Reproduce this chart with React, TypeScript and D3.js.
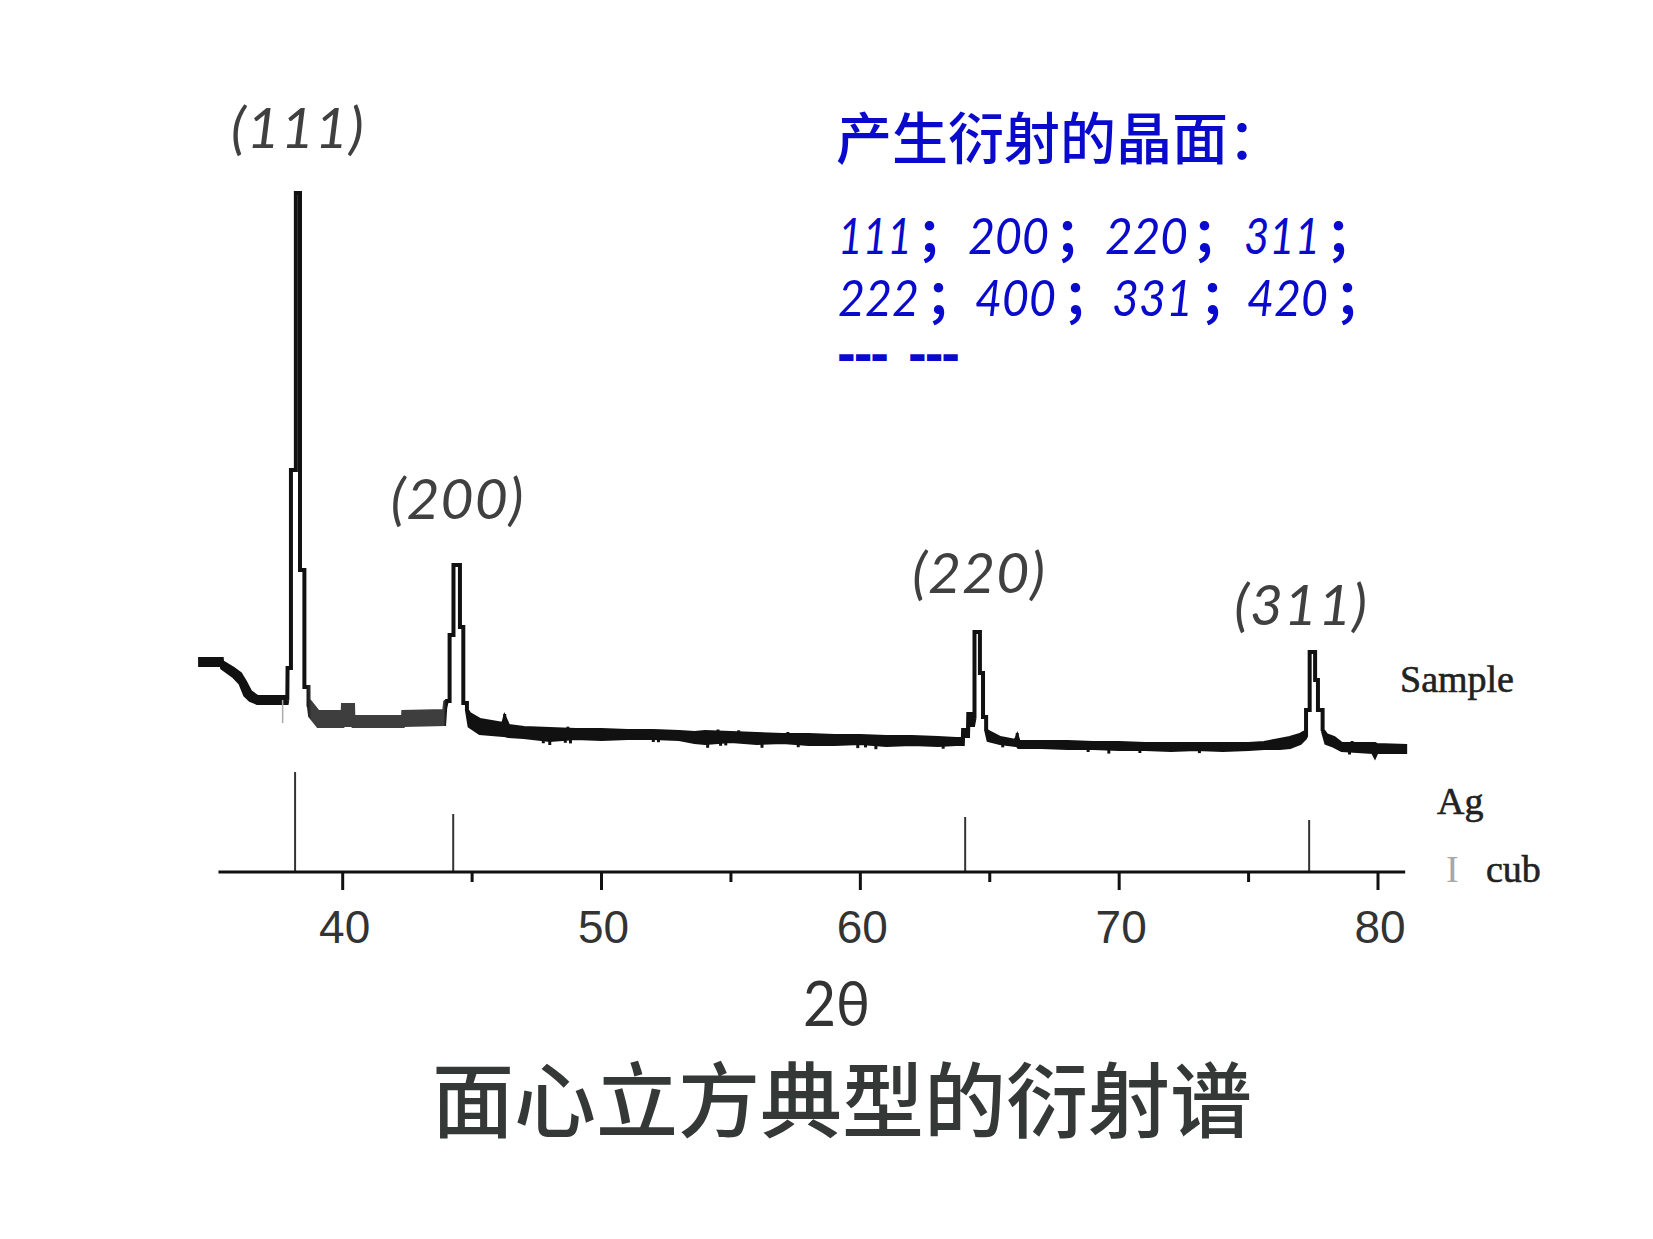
import React from 'react';
import * as d3 from 'd3';

// ---- data ----
// Sample pattern: 2θ positions and the upper / lower envelope of the trace (counts)
const sampleTheta = [
  34.49, 35.33, 35.34, 35.78, 36.04, 36.23, 36.43, 36.70, 37.84,
  37.86, 37.87, 38.00, 38.00, 38.19, 38.19, 38.35, 38.35, 38.52, 38.52, 38.68, 38.68,
  38.74, 39.05, 40.00, 40.01, 40.40, 40.41, 42.33, 42.34, 43.92,
  43.96, 44.02, 44.13, 44.13, 44.28, 44.28, 44.53, 44.53, 44.66, 44.66, 44.80, 44.80,
  44.90, 45.30, 46.20, 46.26, 46.40, 47.0, 48.0, 49.0, 50.0, 51.0, 52.0, 53.0, 53.6,
  54.0, 55.0, 56.0, 57.0, 58.0, 59.0, 60.0, 61.0, 62.0, 63.0, 63.7, 63.96, 63.97, 64.16,
  64.17, 64.36,
  64.41, 64.41, 64.62, 64.62, 64.74, 64.74, 64.86, 64.86,
  64.95, 65.40, 66.00, 66.06, 66.12, 67.0, 68.0, 69.0, 70.0, 71.0, 72.0, 73.0, 74.0,
  75.0, 75.6, 76.2, 76.6, 76.99, 77.18,
  77.22, 77.22, 77.36, 77.36, 77.57, 77.57, 77.68, 77.68, 77.86, 77.86,
  78.0, 78.3, 78.6, 79.2, 79.8, 79.88, 79.95, 81.05,
];
const sampleHigh = [
  1010, 1010, 980, 910, 860, 780, 680, 630, 630,
  600, 920, 920, 2900, 2900, 5670, 5670, 1900, 1900, 730, 730, 570,
  580, 480, 480, 550, 550, 430, 430, 480, 490,
  580, 590, 590, 1250, 1250, 1950, 1950, 1330, 1330, 570, 570, 500,
  460, 400, 360, 420, 340, 320, 310, 300, 300, 290, 290, 280, 270,
  280, 270, 260, 250, 250, 240, 240, 230, 230, 220, 210, 210, 300, 300,
  460, 460,
  420, 1280, 1280, 870, 870, 430, 430, 300,
  280, 220, 190, 230, 180, 180, 180, 170, 170, 160, 160, 160, 160,
  160, 170, 200, 220, 250, 280,
  240, 500, 500, 1080, 1080, 800, 800, 500, 500, 300,
  250, 220, 160, 160, 160, 160, 150, 140,
];
const sampleLow = [
  950, 950, 920, 840, 770, 650, 600, 570, 570,
  600, 920, 920, 2900, 2900, 5670, 5670, 1900, 1900, 730, 730, 570,
  440, 340, 340, 350, 350, 340, 340, 350, 360,
  520, 590, 590, 1250, 1250, 1950, 1950, 1330, 1330, 570, 570, 500,
  340, 270, 250, 250, 240, 230, 200, 220, 210, 220, 220, 210, 180,
  170, 190, 170, 180, 160, 160, 170, 150, 160, 150, 160, 160, 240, 240,
  350, 350,
  420, 1280, 1280, 870, 870, 430, 430, 300,
  200, 170, 150, 150, 130, 130, 120, 120, 110, 110, 100, 110, 100,
  110, 120, 120, 130, 170, 220,
  240, 500, 500, 1080, 1080, 800, 800, 500, 500, 300,
  170, 140, 100, 90, 80, 40, 80, 80,
];

// Small noise spikes on the trace: downward (below the band) and upward (above it)
const spikeDownTheta = [47.75, 48.0, 48.6, 48.8, 52.0, 52.2, 54.1, 54.6, 54.8, 56.2, 57.6, 59.9, 60.2, 60.6, 63.2, 65.5, 68.8, 69.6, 70.8, 73.1, 78.9];
const spikeDownDepth = [40, 50, 40, 50, 40, 40, 50, 40, 40, 50, 40, 50, 40, 50, 40, 40, 40, 50, 40, 40, 40];
const spikeUpTheta = [46.26, 48.7, 54.5, 55.3, 57.2, 66.06, 79.0];
const spikeUpHeight = [40, 30, 30, 30, 30, 40, 30];

// Faint grey marker below the (111) peak
const greyMarkTheta = [37.68];
const greyMarkTop = [600];
const greyMarkBottom = [370];

// Ag (cub) reference stick pattern
const refTheta = [38.16, 44.27, 64.05, 77.34];
const refIntensity = [100, 58, 55, 52];

// Axis ticks
const majorTicks = [40, 50, 60, 70, 80];
const minorTicks = [45, 55, 65, 75];

// Peak labels and their anchor (2θ, counts)
const peakLabels = ['(111)', '(200)', '(220)', '(311)'];
const peakLabelTheta = [38.27, 44.44, 64.59, 77.03];
const peakLabelCount = [6124, 2415, 1675, 1350];

// Diffracting planes listed in the note
const planesRow1 = ['111', '200', '220', '311'];
const planesRow2 = ['222', '400', '331', '420'];

// ---- layout ----
const W = 1653;
const H = 1239;
const BLUE = '#0a0acc';
const DIGIT_SIZE = 50;
const SEMI_SIZE = 50;
const row1X = [838, 968, 1105, 1244];
const row1W = [74, 81, 83, 76];
const row1Semi = [919, 1057, 1194, 1328];
const row2X = [838, 975, 1112, 1247];
const row2W = [81, 81, 81, 81];
const row2Semi = [928, 1065, 1202, 1337];

export default function App() {
  const x = d3.scaleLinear().domain([40, 80]).range([342.7, 1378]);
  const y = d3.scaleLinear().domain([0, 5700]).range([760, 190]);
  const yRef = d3.scaleLinear().domain([0, 100]).range([872, 772]);
  const axisY = 872;

  const area = d3
    .area<number>()
    .x((d) => x(d))
    .y0((_d, i) => y(sampleLow[i]))
    .y1((_d, i) => y(sampleHigh[i]));

  const bis = d3.bisector((d: number) => d).left;
  const envAt = (arr: number[], t: number) => {
    const i = Math.max(1, Math.min(sampleTheta.length - 1, bis(sampleTheta, t)));
    const t0 = sampleTheta[i - 1];
    const t1 = sampleTheta[i];
    const f = t1 === t0 ? 0 : (t - t0) / (t1 - t0);
    return arr[i - 1] + (arr[i] - arr[i - 1]) * f;
  };

  const renderRow = (
    labels: string[],
    xs: number[],
    ws: number[],
    semis: number[],
    baseY: number,
    key: string
  ) => (
    <text key={key} y={baseY} fill={BLUE}>
      {labels.map((s, i) => (
        <React.Fragment key={key + i}>
          <tspan
            x={xs[i]}
            y={baseY}
            textLength={ws[i]}
            lengthAdjust="spacingAndGlyphs"
            fontFamily="Lato, 'Noto Sans', sans-serif"
            fontStyle="italic"
            fontSize={DIGIT_SIZE}
          >
            {s}
          </tspan>
          <tspan
            x={semis[i] - 0.04 * SEMI_SIZE}
            y={baseY}
            fontFamily="'Noto Sans CJK SC', sans-serif"
            fontWeight={600}
            fontSize={SEMI_SIZE}
          >
            ；
          </tspan>
        </React.Fragment>
      ))}
    </text>
  );

  return (
    <svg
      width={W}
      height={H}
      style={{ position: 'absolute', left: 0, top: 0, background: '#fff' }}
    >
      <defs>
        <linearGradient
          id="traceGrad"
          gradientUnits="userSpaceOnUse"
          x1={x(34)}
          x2={x(82)}
          y1={0}
          y2={0}
        >
          <stop offset={(38.6 - 34) / 48} stopColor="#111" />
          <stop offset={(38.8 - 34) / 48} stopColor="#3e3e3e" />
          <stop offset={(43.9 - 34) / 48} stopColor="#3e3e3e" />
          <stop offset={(44.0 - 34) / 48} stopColor="#111" />
        </linearGradient>
      </defs>

      {/* sample trace */}
      <path
        d={area(sampleTheta) || ''}
        fill="url(#traceGrad)"
        stroke="url(#traceGrad)"
        strokeWidth={4}
        strokeLinejoin="miter"
      />
      {spikeDownTheta.map((t, i) => {
        const lo = envAt(sampleLow, t);
        return (
          <line
            key={'sd' + i}
            x1={x(t)}
            x2={x(t)}
            y1={y(lo)}
            y2={y(lo - spikeDownDepth[i])}
            stroke="#111"
            strokeWidth={3}
          />
        );
      })}
      {spikeUpTheta.map((t, i) => {
        const hi = envAt(sampleHigh, t);
        return (
          <line
            key={'su' + i}
            x1={x(t)}
            x2={x(t)}
            y1={y(hi)}
            y2={y(hi + spikeUpHeight[i])}
            stroke="#111"
            strokeWidth={3}
          />
        );
      })}

      {greyMarkTheta.map((t, i) => (
        <line
          key={'g' + i}
          x1={x(t)}
          x2={x(t)}
          y1={y(greyMarkTop[i])}
          y2={y(greyMarkBottom[i])}
          stroke="#aaa"
          strokeWidth={1.5}
        />
      ))}

      {/* reference sticks */}
      {refTheta.map((t, i) => (
        <line
          key={'r' + i}
          x1={x(t)}
          x2={x(t)}
          y1={yRef(refIntensity[i])}
          y2={axisY}
          stroke="#333"
          strokeWidth={2}
        />
      ))}

      {/* axis */}
      <line x1={x(35.2)} x2={x(81.05)} y1={axisY} y2={axisY} stroke="#111" strokeWidth={3} />
      {majorTicks.map((t) => (
        <line key={'M' + t} x1={x(t)} x2={x(t)} y1={axisY} y2={axisY + 18} stroke="#111" strokeWidth={3} />
      ))}
      {minorTicks.map((t) => (
        <line key={'m' + t} x1={x(t)} x2={x(t)} y1={axisY} y2={axisY + 10} stroke="#111" strokeWidth={3} />
      ))}
      {majorTicks.map((t) => (
        <text
          key={'l' + t}
          x={x(t) + 2}
          y={943}
          textAnchor="middle"
          fontFamily="'Liberation Sans', Arial, sans-serif"
          fontSize={46}
          fill="#333"
        >
          {t}
        </text>
      ))}

      {/* pattern labels */}
      <text x={1400} y={692} fontFamily="'Liberation Serif', 'Times New Roman', serif" fontSize={38} fill="#222" stroke="#222" strokeWidth={0.6}>
        Sample
      </text>
      <text x={1437} y={814} fontFamily="'Liberation Serif', 'Times New Roman', serif" fontSize={38} fill="#222" stroke="#222" strokeWidth={0.6}>
        Ag
      </text>
      <text x={1446} y={882} fontFamily="'Liberation Serif', 'Times New Roman', serif" fontSize={38} fill="#a8a8a8">
        I
      </text>
      <text x={1486} y={882} fontFamily="'Liberation Serif', 'Times New Roman', serif" fontSize={38} fill="#222" stroke="#222" strokeWidth={0.6}>
        cub
      </text>

      {/* peak labels */}
      {peakLabels.map((s, i) => (
        <text
          key={'p' + i}
          x={x(peakLabelTheta[i])}
          y={y(peakLabelCount[i])}
          textAnchor="middle"
          fontFamily="Lato, 'Noto Sans', sans-serif"
          fontStyle="italic"
          fontWeight={400}
          fontSize={57}
          letterSpacing={1}
          fill="#404040"
        >
          {s}
        </text>
      ))}

      {/* blue note */}
      <text x={836} y={159} fontFamily="'Noto Sans CJK SC', sans-serif" fontWeight={500} fontSize={56} fill={BLUE}>
        产生衍射的晶面：
      </text>
      {renderRow(planesRow1, row1X, row1W, row1Semi, 254, 'row1')}
      {renderRow(planesRow2, row2X, row2W, row2Semi, 316, 'row2')}
      <text x={838} y={370} fontFamily="Lato, sans-serif" fontWeight={900} fontSize={40} fill={BLUE} stroke={BLUE} strokeWidth={2.2}>
        <tspan textLength={50} lengthAdjust="spacingAndGlyphs">---</tspan>
        <tspan x={909} textLength={50} lengthAdjust="spacingAndGlyphs">---</tspan>
      </text>

      {/* x label and title */}
      <text
        x={836.5}
        y={1026}
        textAnchor="middle"
        textLength={67}
        lengthAdjust="spacingAndGlyphs"
        fontFamily="Lato, 'Noto Sans', sans-serif"
        fontSize={62}
        fill="#333"
      >
        2θ
      </text>
      <text
        x={842}
        y={1131}
        textAnchor="middle"
        fontFamily="'Noto Sans CJK SC', sans-serif"
        fontWeight={500}
        fontSize={82}
        fill="#343836"
      >
        面心立方典型的衍射谱
      </text>
    </svg>
  );
}
